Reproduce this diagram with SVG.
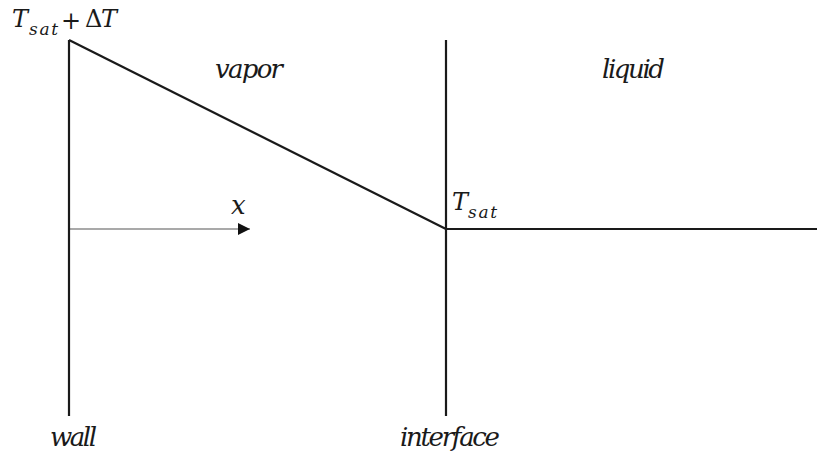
<svg xmlns="http://www.w3.org/2000/svg" width="817" height="456" viewBox="0 0 817 456">
<style>
.ln{stroke:#1a1a1a;stroke-width:2.2;fill:none}
.t{font-family:"DejaVu Serif",serif;font-style:italic;font-size:24px;fill:#1a1a1a}
.b{font-size:26px}
.s{font-size:17px}
.r{font-family:"DejaVu Serif",serif;font-style:normal;font-size:24px;fill:#1a1a1a}
</style>
<defs>
<marker id="ah" viewBox="0 0 10 10" refX="10" refY="5" markerWidth="12" markerHeight="12" markerUnits="userSpaceOnUse" orient="auto">
<path d="M0,0 L10,5 L0,10 z" fill="#111"/>
</marker>
</defs>
<rect width="817" height="456" fill="#fff"/>
<g id="connectors">
<line class="ln" x1="69" y1="40" x2="446" y2="229"/>
<line class="ln" x1="446" y1="229" x2="817" y2="229"/>
<line x1="69" y1="229" x2="250" y2="229" stroke="#555" stroke-width="1.2" marker-end="url(#ah)"/>
</g>
<g id="wall">
<line class="ln" x1="69" y1="40" x2="69" y2="416"/>
<text class="t b" x="50" y="446" textLength="47">wall</text>
</g>
<g id="interface">
<line class="ln" x1="446" y1="40" x2="446" y2="416"/>
<text class="t b" x="400" y="446" textLength="100">interface</text>
</g>
<g id="vapor">
<text class="t b" x="215" y="78" textLength="68">vapor</text>
</g>
<g id="liquid">
<text class="t b" x="602" y="78" textLength="63">liquid</text>
</g>
<g id="x-axis">
<text class="t b" x="231" y="214">x</text>
</g>
<g id="wall-temp">
<text class="t" x="12" y="27" textLength="20">T</text><text class="t s" x="29" y="35" textLength="29">sat</text><text class="r" x="61" y="29" font-size="28">+</text><text class="r" x="85" y="27">Δ</text><text class="t" x="101" y="27" textLength="19">T</text>
</g>
<g id="interface-temp">
<text class="t" x="452" y="210" textLength="20">T</text><text class="t s" x="468" y="218" textLength="29">sat</text>
</g>
</svg>
